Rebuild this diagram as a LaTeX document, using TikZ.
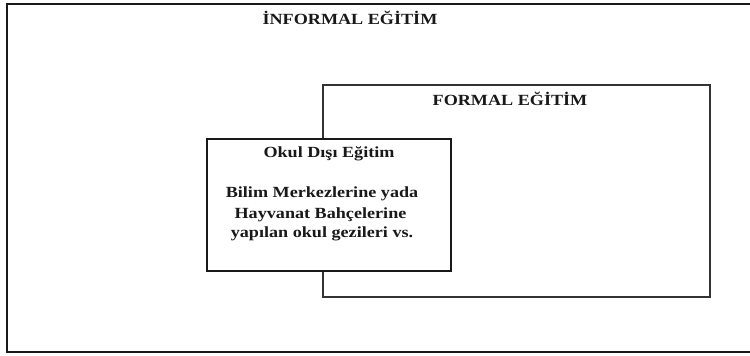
\documentclass[tikz,border=0pt]{standalone}
\usepackage{fontspec}
\usepackage{graphicx}
\setmainfont{Liberation Serif}
\newcommand{\wide}[1]{\scalebox{1.17}[1]{#1}}
\begin{document}
\begin{tikzpicture}[x=1pt,y=-1pt,
  box/.style={draw=black!80,line width=1.2pt,fill=white,inner sep=0pt},
  lbl/.style={font=\fontsize{15.5}{18}\selectfont\bfseries,inner sep=0pt,anchor=base,text=black!90}]
\useasboundingbox (0,0) rectangle (750,356);
\clip (0,0) rectangle (750,356);
\node[box,draw=black!90,line width=1.8pt,minimum width=756pt,minimum height=348pt] (informal) at (385,178) {};
\node[box,minimum width=387pt,minimum height=212pt] (formal) at (516.5,191) {};
\node[box,draw=black!90,minimum width=244pt,minimum height=132pt] (okul) at (329,205) {};
\node[lbl] (tinf) at (350,24.5) {\wide{İNFORMAL EĞİTİM}};
\node[lbl] (tfor) at (510,105) {\wide{FORMAL EĞİTİM}};
\node[lbl] (tokul) at (329,157) {\wide{Okul Dışı Eğitim}};
\node[lbl] (t1) at (322,197) {\wide{Bilim Merkezlerine yada}};
\node[lbl] (t2) at (320.5,218) {\wide{Hayvanat Bahçelerine}};
\node[lbl] (t3) at (322,237.5) {\wide{yapılan okul gezileri vs.}};
\end{tikzpicture}
\end{document}
